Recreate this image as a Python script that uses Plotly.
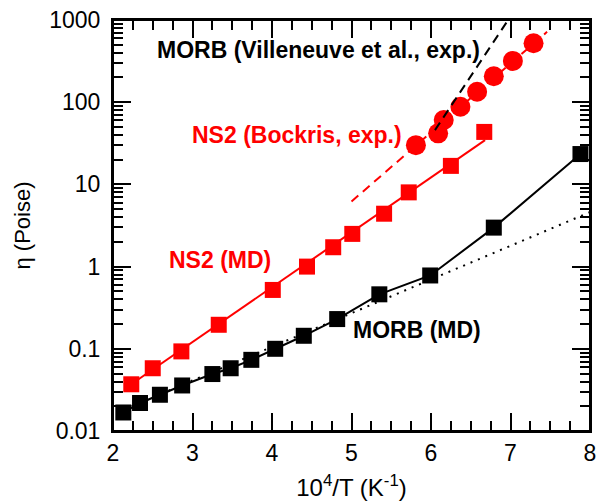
import plotly.graph_objects as go

# NS2 molecular dynamics (red squares) and its Arrhenius fit
ns2_md_x = [2.23, 2.50, 2.86, 3.33, 4.01, 4.44, 4.77, 5.01, 5.41, 5.72, 6.25, 6.67]
ns2_md_y = [0.037, 0.058, 0.093, 0.196, 0.52, 1.0, 1.72, 2.5, 4.4, 8.0, 16.8, 43.5]
ns2_fit_x = [2.23, 6.68]
ns2_fit_y = [0.037, 34.5]

# NS2 experiment (Bockris, red circles) and fit (red dashed)
ns2_exp_x = [5.81, 6.09, 6.16, 6.37, 6.58, 6.79, 7.03, 7.29]
ns2_exp_y = [30, 41.8, 60.7, 88, 134, 207, 318, 522]
ns2_exp_fit_x = [5.0, 7.46]
ns2_exp_fit_y = [6.2, 718]

# MORB experiment (Villeneuve et al., black dashed)
morb_exp_fit_x = [6.05, 6.97]
morb_exp_fit_y = [45.8, 1000]

# MORB molecular dynamics (black squares) and Arrhenius line (dotted)
morb_md_x = [2.13, 2.34, 2.59, 2.87, 3.25, 3.48, 3.74, 4.04, 4.40, 4.82, 5.35, 5.99, 6.79, 7.88]
morb_md_y = [0.0168, 0.0219, 0.0276, 0.0358, 0.0493, 0.058, 0.0734, 0.100, 0.144, 0.23, 0.46, 0.78, 2.98, 23.4]
morb_arr_x = [2.05, 8.0]
morb_arr_y = [0.0168, 4.6]

x_range = [2, 8]
x_ticks = [2, 3, 4, 5, 6, 7, 8]
y_ticks = [0.01, 0.1, 1, 10, 100, 1000]
y_ticktext = ["0.01", "0.1", "1", "10", "100", "1000"]

RED = "#ff0000"
BLACK = "#000000"
FONT = "Liberation Sans, Arial, Helvetica, sans-serif"

fig = go.Figure()

fig.add_trace(go.Scatter(x=morb_arr_x, y=morb_arr_y, mode="lines",
                         line=dict(color=BLACK, width=2, dash="2px,6px")))
fig.add_trace(go.Scatter(x=morb_md_x, y=morb_md_y, mode="lines+markers",
                         line=dict(color=BLACK, width=2),
                         marker=dict(symbol="square", size=16, color=BLACK)))
fig.add_trace(go.Scatter(x=ns2_fit_x, y=ns2_fit_y, mode="lines",
                         line=dict(color=RED, width=2)))
fig.add_trace(go.Scatter(x=ns2_md_x, y=ns2_md_y, mode="markers",
                         marker=dict(symbol="square", size=16, color=RED)))
fig.add_trace(go.Scatter(x=ns2_exp_fit_x, y=ns2_exp_fit_y, mode="lines",
                         line=dict(color=RED, width=2, dash="9px,6px")))
fig.add_trace(go.Scatter(x=ns2_exp_x, y=ns2_exp_y, mode="markers",
                         marker=dict(symbol="circle", size=20, color=RED)))
fig.add_trace(go.Scatter(x=morb_exp_fit_x, y=morb_exp_fit_y, mode="lines",
                         line=dict(color=BLACK, width=2, dash="9px,6px")))

annotations = [
    dict(text="<b>MORB (Villeneuve et al., exp.)</b>", x=4.58, y=2.63, color=BLACK),
    dict(text="<b>NS2 (Bockris, exp.)</b>", x=4.31, y=1.60, color=RED),
    dict(text="<b>NS2 (MD)</b>", x=3.34, y=0.08, color=RED),
    dict(text="<b>MORB (MD)</b>", x=5.82, y=-0.77, color=BLACK),
]
for a in annotations:
    fig.add_annotation(text=a["text"], x=a["x"], y=a["y"], xref="x", yref="y",
                       showarrow=False, xanchor="center", yanchor="middle",
                       font=dict(family=FONT, size=23, color=a["color"]))

# frame around the plotting area
fig.add_shape(type="rect", xref="x domain", yref="y domain", x0=0, x1=1, y0=0, y1=1,
              line=dict(color=BLACK, width=2), fillcolor="rgba(0,0,0,0)", layer="above")

fig.update_layout(
    width=606, height=504,
    margin=dict(l=113, r=16, t=20, b=73, autoexpand=False),
    paper_bgcolor="white", plot_bgcolor="white",
    showlegend=False,
    font=dict(family=FONT, size=23, color=BLACK),
)
fig.update_xaxes(
    range=x_range, tickvals=x_ticks, ticks="inside", ticklen=18, tickwidth=1.5,
    tickcolor=BLACK, showline=True, linewidth=2, linecolor=BLACK, mirror="allticks",
    showgrid=False, zeroline=False, tickfont=dict(size=23), automargin=False,
    ticklabelstandoff=0,
    minor=dict(ticks="inside", ticklen=10, tickwidth=1.5, tickcolor=BLACK, dtick=0.25, showgrid=False),
    title=dict(text="10<sup>4</sup>/T (K<sup>-1</sup>)", font=dict(size=24), standoff=15),
)
fig.update_yaxes(
    type="log", range=[-2, 3], tickvals=y_ticks, ticktext=y_ticktext,
    ticks="inside", ticklen=18, tickwidth=1.5, tickcolor=BLACK,
    showline=True, linewidth=2, linecolor=BLACK, mirror="allticks",
    showgrid=False, zeroline=False, tickfont=dict(size=23), automargin=False,
    ticklabelstandoff=6,
    minor=dict(ticks="inside", ticklen=10, tickwidth=1.5, tickcolor=BLACK, dtick="D1", showgrid=False),
    title=dict(text="η (Poise)", font=dict(size=22), standoff=13),
)
# top axis carrying the upper tick marks
fig.update_layout(xaxis2=dict(
    overlaying="x", side="top", anchor="y", range=x_range, tickvals=x_ticks,
    ticks="inside", ticklen=18, tickwidth=1.5, tickcolor=BLACK, showticklabels=False,
    showline=True, linewidth=2, linecolor=BLACK, showgrid=False, zeroline=False,
    automargin=False,
    minor=dict(ticks="inside", ticklen=10, tickwidth=1.5, tickcolor=BLACK, dtick=0.25, showgrid=False),
))

# remove the browser's default 8px page margin so the figure fills the window exactly
fig.write_html("out.html", config={"displayModeBar": False},
               post_script="document.body.style.margin='0';document.body.style.overflow='hidden';")
